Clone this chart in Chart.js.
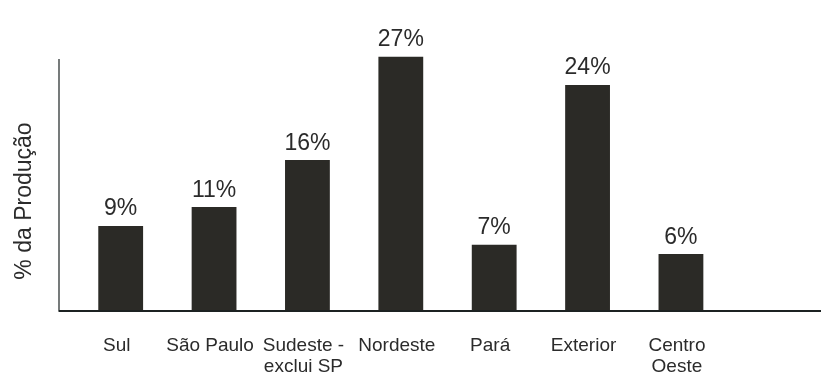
<!DOCTYPE html>
<html>
<head>
<meta charset="utf-8">
<script src="https://cdn.jsdelivr.net/npm/chart.js@4"></script>
<style>
  html, body { margin: 0; padding: 0; background: #fff; }
  #wrap { width: 834px; height: 381px; }
</style>
</head>
<body>
<div id="wrap"><canvas id="chart"></canvas></div>
<script>
const categories = ['Sul', 'São Paulo', ['Sudeste -', 'exclui SP'], 'Nordeste', 'Pará', 'Exterior', ['Centro', 'Oeste'], ''];
const shares = [9, 11, 16, 27, 7, 24, 6, null];
const yTitle = '% da Produção';

const fontFamily = "'Liberation Sans', Arial, sans-serif";
const inkColor = '#2b2b2b';
const barColor = '#2b2a26';
const axisColor = '#1c2222';

// axis lines, value labels and the axis title are drawn by hand,
// the original has the y axis sitting left of the first category slot
const decorations = {
  id: 'decorations',
  afterDatasetsDraw(chart) {
    const { ctx, chartArea } = chart;
    const left = chartArea.left - 15;
    const bottom = chartArea.bottom;
    ctx.save();

    ctx.strokeStyle = axisColor;
    ctx.lineWidth = 1.2;
    ctx.beginPath();
    ctx.moveTo(left, chartArea.top + 30.5);
    ctx.lineTo(left, bottom);
    ctx.stroke();

    ctx.lineWidth = 2;
    ctx.beginPath();
    ctx.moveTo(left - 0.5, bottom + 0.5);
    ctx.lineTo(chartArea.right, bottom + 0.5);
    ctx.stroke();

    ctx.fillStyle = inkColor;
    ctx.font = '23px ' + fontFamily;
    ctx.textAlign = 'center';
    ctx.textBaseline = 'alphabetic';
    chart.getDatasetMeta(0).data.forEach((bar, i) => {
      if (shares[i] == null) return;
      ctx.fillText(shares[i] + '%', bar.x, bar.y - 10.5);
    });

    ctx.translate(chartArea.left - 49, chartArea.top + 172.5);
    ctx.rotate(-Math.PI / 2);
    ctx.textBaseline = 'middle';
    ctx.fillText(yTitle, 0, 0);
    ctx.restore();
  }
};

new Chart(document.getElementById('chart'), {
  type: 'bar',
  data: {
    labels: categories,
    datasets: [{
      data: shares,
      backgroundColor: barColor,
      borderWidth: 0,
      barPercentage: 0.48,
      categoryPercentage: 1
    }]
  },
  options: {
    responsive: true,
    maintainAspectRatio: false,
    animation: false,
    layout: { padding: { left: 74, right: 13, top: 28.5, bottom: 0 } },
    plugins: {
      legend: { display: false },
      tooltip: { enabled: false }
    },
    scales: {
      x: {
        grid: { display: false, drawTicks: false },
        border: { display: false },
        afterFit(scale) { scale.height = 70.5; },
        ticks: {
          color: inkColor,
          padding: 25,
          labelOffset: -4,
          maxRotation: 0,
          autoSkip: false,
          font: { family: fontFamily, size: 19, lineHeight: 1.08 }
        }
      },
      y: {
        display: false,
        min: 0,
        max: 30
      }
    }
  },
  plugins: [decorations]
});
</script>
</body>
</html>
